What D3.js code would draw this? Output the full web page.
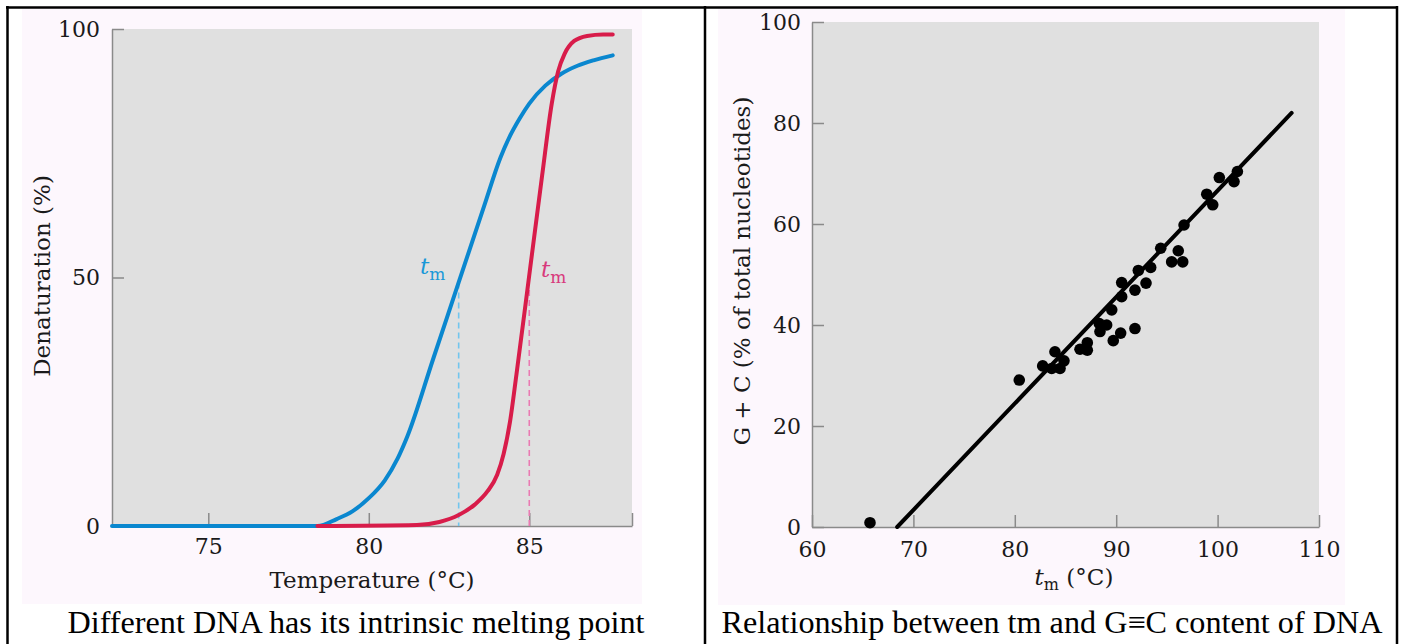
<!DOCTYPE html>
<html><head><meta charset="utf-8">
<script src="https://cdn.jsdelivr.net/npm/d3@7"></script>
<style>
html,body{margin:0;padding:0;background:#fff;}
svg{display:block;}
</style></head>
<body>
<script>
// ---------- DATA ----------
// Left panel: melting curves (temperature °C, denaturation %)
const blueTemp = [72, 78.4, 79.0, 79.5, 80.0, 80.5, 80.9, 81.2, 82.0, 82.8, 83.6, 84.1, 84.4, 84.7, 85.0, 85.5, 86.0, 86.5, 87.0, 87.6];
const blueDen  = [0, 0, 1.4, 3.0, 5.6, 9.2, 13.6, 18, 33.5, 49, 64.5, 74.1, 78.5, 82.0, 85.0, 88.6, 91.0, 92.6, 93.7, 94.7];
const redTemp  = [78.4, 81.5, 82.2, 82.8, 83.3, 83.7, 84.0, 84.2, 84.4, 84.6, 85.0, 85.4, 85.7, 85.9, 86.1, 86.4, 86.8, 87.3, 87.6];
const redDen   = [0, 0.2, 0.8, 2.2, 4.3, 7.0, 10.3, 14.5, 21, 30.5, 50.5, 70.5, 85, 91.5, 95, 97.6, 98.6, 98.9, 98.9];
const tmBlue = 82.8, tmRed = 85.0;
const leftXTicks = [75, 80, 85];
const leftYTicks = [0, 50, 100];

// Right panel: tm vs G+C content
const gcTm = [65.72, 80.44, 82.75, 83.64, 83.96, 84.46, 84.85, 86.43, 87.15, 87.15, 88.33, 89.06, 88.40, 89.71, 90.44, 91.85, 89.56, 90.54, 90.54, 91.85, 92.94, 92.18, 93.40, 94.39, 96.12, 95.47, 96.56, 96.69, 98.93, 99.52, 100.17, 101.62, 101.95];
const gcPct = [0.85, 29.1, 31.9, 31.4, 34.7, 31.4, 32.9, 35.2, 36.5, 35.0, 40.3, 40.0, 38.7, 36.9, 38.4, 39.3, 43.0, 45.6, 48.4, 46.9, 48.3, 50.8, 51.4, 55.2, 54.7, 52.5, 52.5, 59.8, 65.9, 63.8, 69.2, 68.4, 70.4];
const fitTm  = [68.4, 107.3];
const fitPct = [0, 82];
const rightXTicks = [60, 70, 80, 90, 100, 110];
const rightYTicks = [0, 20, 40, 60, 80, 100];

const captions = ["Different DNA has its intrinsic melting point", "Relationship between tm and G\u2261C content of DNA"];

// ---------- DRAW ----------
const W = 1404, H = 644;
const svg = d3.select("body").append("svg").attr("width", W).attr("height", H);
svg.append("rect").attr("width", W).attr("height", H).attr("fill", "#fff");

const serif = "'DejaVu Serif', serif";
const times = "'Liberation Serif', 'Times New Roman', serif";
const axisColor = "#8a8a8a";
const tickFont = 22;
const titleFont = 23;
const textColor = "#1a1a1a";

// table borders
const border = svg.append("g").attr("stroke", "#000").attr("stroke-width", 2.5).attr("fill", "none");
border.append("line").attr("x1", 6).attr("x2", 1398).attr("y1", 7.5).attr("y2", 7.5);
border.append("line").attr("x1", 7.5).attr("x2", 7.5).attr("y1", 6).attr("y2", 650);
border.append("line").attr("x1", 705).attr("x2", 705).attr("y1", 6).attr("y2", 650);
border.append("line").attr("x1", 1397).attr("x2", 1397).attr("y1", 6).attr("y2", 650);

// image backgrounds
svg.append("rect").attr("x", 22).attr("y", 9).attr("width", 620).attr("height", 595).attr("fill", "#fdf7fd");
svg.append("rect").attr("x", 718).attr("y", 9).attr("width", 627).attr("height", 596).attr("fill", "#fdf7fd");

// ---------- LEFT PANEL ----------
const xL = d3.scaleLinear().domain([72, 88.2]).range([112, 632]);
const yL = d3.scaleLinear().domain([0, 100]).range([526, 29]);
const gL = svg.append("g");
gL.append("rect").attr("x", xL.range()[0]).attr("y", yL.range()[1])
  .attr("width", xL.range()[1] - xL.range()[0]).attr("height", yL.range()[0] - yL.range()[1]).attr("fill", "#e0e0e0");

function styleAxis(g) {
  g.select(".domain").attr("stroke", axisColor).attr("stroke-width", 1.5);
  g.selectAll(".tick line").attr("stroke", axisColor).attr("stroke-width", 1.5);
  g.selectAll(".tick text").attr("fill", textColor).attr("font-family", serif).attr("font-size", tickFont);
}

const axLX = gL.append("g").attr("transform", `translate(0,${yL(0)})`)
  .call(d3.axisBottom(xL).tickValues(leftXTicks.concat([xL.domain()[1]])).tickSize(-13).tickSizeOuter(0)
    .tickFormat(d => leftXTicks.includes(d) ? d : ""));
styleAxis(axLX);
axLX.selectAll(".tick text").attr("y", 12);
const axLY = gL.append("g").attr("transform", `translate(${xL(72)},0)`)
  .call(d3.axisLeft(yL).tickValues(leftYTicks).tickSize(-12).tickSizeOuter(0));
styleAxis(axLY);
axLY.selectAll(".tick text").attr("x", -12);

// dashed tm lines
const tmLines = [{t: tmBlue, top: 49, c: "#72c6ee"}, {t: tmRed, top: 47.5, c: "#ea7ab2"}];
gL.selectAll(".tm").data(tmLines).enter().append("line")
  .attr("x1", d => xL(d.t)).attr("x2", d => xL(d.t))
  .attr("y1", d => yL(d.top)).attr("y2", yL(0))
  .attr("stroke", d => d.c).attr("stroke-width", 1.6).attr("stroke-dasharray", "6,4");

const lineL = d3.line().x(d => xL(d[0])).y(d => yL(d[1])).curve(d3.curveMonotoneX);
const blueData = blueTemp.map((t, i) => [t, blueDen[i]]);
const redData = redTemp.map((t, i) => [t, redDen[i]]);
gL.append("path").datum(blueData).attr("d", lineL).attr("fill", "none")
  .attr("stroke", "#0a87cf").attr("stroke-width", 4).attr("stroke-linecap", "round").attr("stroke-linejoin", "round");
gL.append("path").datum(redData).attr("d", lineL).attr("fill", "none")
  .attr("stroke", "#d81c4a").attr("stroke-width", 4).attr("stroke-linecap", "round").attr("stroke-linejoin", "round");

// tm labels
function tmLabel(g, x, y, color) {
  const t = g.append("text").attr("x", x).attr("y", y).attr("fill", color)
    .attr("font-family", serif).attr("font-size", 23);
  t.append("tspan").attr("font-style", "italic").text("t");
  t.append("tspan").attr("font-size", 17).attr("dy", 6).text("m");
}
tmLabel(gL, 420, 274, "#1a98d8");
tmLabel(gL, 541, 277, "#d83a7c");

// axis titles
gL.append("text").attr("x", (xL.range()[0] + xL.range()[1]) / 2).attr("y", 588)
  .attr("text-anchor", "middle").attr("font-family", serif).attr("font-size", titleFont).attr("fill", textColor)
  .text("Temperature (\u00B0C)");
gL.append("text").attr("transform", `translate(50,276) rotate(-90)`)
  .attr("text-anchor", "middle").attr("font-family", serif).attr("font-size", titleFont).attr("fill", textColor)
  .text("Denaturation (%)");

// ---------- RIGHT PANEL ----------
const xR = d3.scaleLinear().domain([60, 110]).range([812, 1319]);
const yR = d3.scaleLinear().domain([0, 100]).range([527, 22]);
const gR = svg.append("g");
gR.append("rect").attr("x", xR.range()[0]).attr("y", yR.range()[1])
  .attr("width", xR.range()[1] - xR.range()[0]).attr("height", yR.range()[0] - yR.range()[1]).attr("fill", "#e0e0e0");

const axRX = gR.append("g").attr("transform", `translate(0,${yR(0)})`)
  .call(d3.axisBottom(xR).tickValues(rightXTicks).tickSize(-12).tickSizeOuter(0));
styleAxis(axRX);
axRX.selectAll(".tick text").attr("y", 14);
const axRY = gR.append("g").attr("transform", `translate(${xR(60)},0)`)
  .call(d3.axisLeft(yR).tickValues(rightYTicks).tickSize(-12).tickSizeOuter(0));
styleAxis(axRY);
axRY.selectAll(".tick text").attr("x", -11);

// fit line
gR.append("line").attr("x1", xR(fitTm[0])).attr("y1", yR(fitPct[0]))
  .attr("x2", xR(fitTm[1])).attr("y2", yR(fitPct[1]))
  .attr("stroke", "#000").attr("stroke-width", 4).attr("stroke-linecap", "round");

// points
gR.selectAll("circle.pt").data(gcTm.map((t, i) => [t, gcPct[i]])).enter().append("circle")
  .attr("class", "pt").attr("cx", d => xR(d[0])).attr("cy", d => yR(d[1])).attr("r", 5.8).attr("fill", "#000");

// axis titles
const xt = gR.append("text").attr("x", 1074).attr("y", 585)
  .attr("text-anchor", "middle").attr("font-family", serif).attr("font-size", titleFont).attr("fill", textColor);
xt.append("tspan").attr("font-style", "italic").text("t");
xt.append("tspan").attr("font-size", 16).attr("dy", 5).text("m");
xt.append("tspan").attr("dy", -5).text(" (\u00B0C)");
gR.append("text").attr("transform", `translate(750,271) rotate(-90)`)
  .attr("text-anchor", "middle").attr("font-family", serif).attr("font-size", titleFont).attr("fill", textColor)
  .text("G + C (% of total nucleotides)");

// ---------- CAPTIONS ----------
svg.selectAll("text.cap").data(captions).enter().append("text").attr("class", "cap")
  .attr("x", (d, i) => i === 0 ? 356 : 1052).attr("y", 633)
  .attr("text-anchor", "middle").attr("font-family", times).attr("font-size", 32.2).attr("fill", "#000")
  .text(d => d);
</script>
</body></html>
